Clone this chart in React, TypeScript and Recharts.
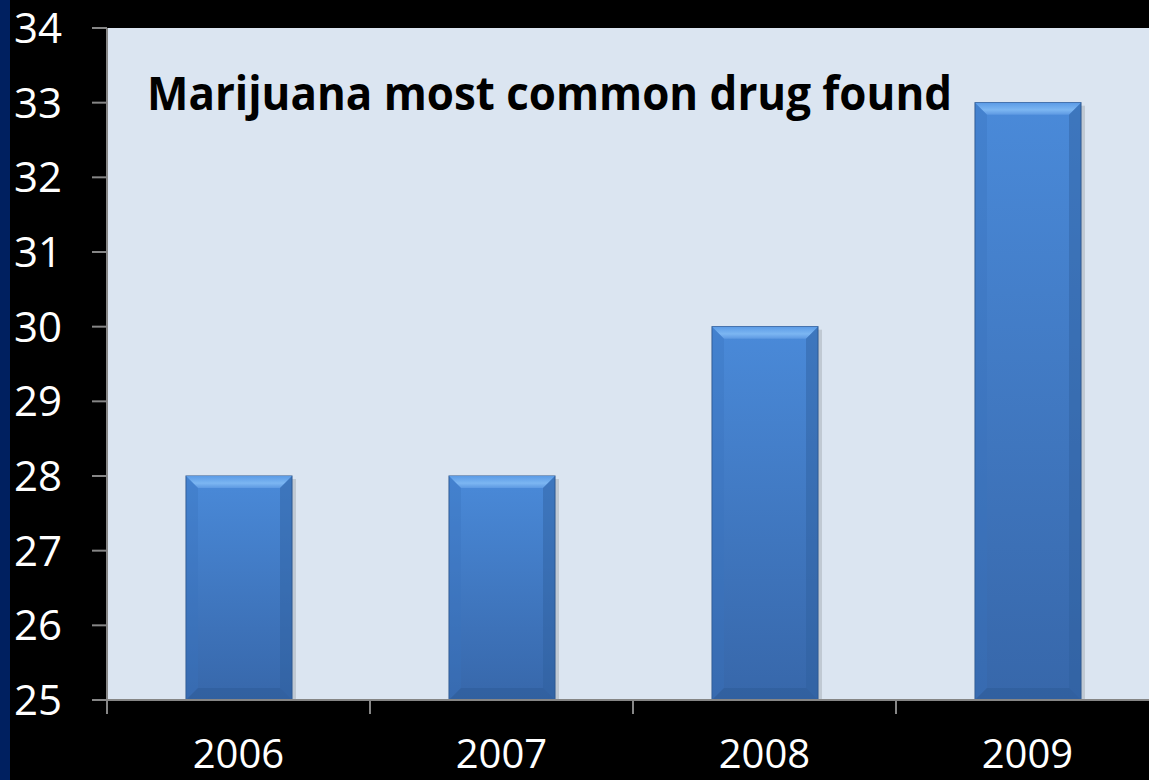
import { BarChart, Bar, XAxis, YAxis, CartesianGrid } from "recharts";

const YEARS = ["2006", "2007", "2008", "2009"];
const FOUND = [28, 28, 30, 33];
const Y_TICKS = [25, 26, 27, 28, 29, 30, 31, 32, 33, 34];
const TITLE = "Marijuana most common drug found";

const chartData = YEARS.map((year, i) => ({
    year,
    value: FOUND[i],
}));

const FONT = "'Open Sans', 'Liberation Sans', sans-serif";
const AXIS_GRAY = "#868686";

function BevelBar(props: any) {
    const { x, y, width, height } = props;
    if (!height || height <= 0) return null;
    const b = 12;
    return (
        <g>
            <rect x={x + 4} y={y + 3} width={width} height={height - 3} fill="#000" opacity={0.12} />
            <rect x={x} y={y} width={width} height={height} fill="url(#barBody)" stroke="#2a548c" strokeWidth={1} />
            <polygon
                points={`${x},${y} ${x + width},${y} ${x + width - b},${y + b} ${x + b},${y + b}`}
                fill="url(#barTop)"
            />
            <polygon
                points={`${x + width},${y} ${x + width},${y + height} ${x + width - b},${y + height - b} ${x + width - b},${y + b}`}
                fill="#2f5f9e"
                opacity={0.45}
            />
            <polygon
                points={`${x},${y} ${x + b},${y + b} ${x + b},${y + height - b} ${x},${y + height}`}
                fill="#3a72bd"
                opacity={0.35}
            />
            <polygon
                points={`${x},${y + height} ${x + b},${y + height - b} ${x + width - b},${y + height - b} ${x + width},${y + height}`}
                fill="#2c5a95"
                opacity={0.5}
            />
        </g>
    );
}

function YearTick(props: any) {
    const { x, y, payload } = props;
    const off = payload && payload.offset ? payload.offset : 131.5;
    return (
        <g>
            <line x1={x - off} x2={x - off} y1={y} y2={y + 14} stroke={AXIS_GRAY} strokeWidth={2} />
            <text x={x} y={y + 68} textAnchor="middle" fill="#ffffff" fontSize={40} fontFamily={FONT}>
                {payload.value}
            </text>
        </g>
    );
}

export default function App() {
    return (
        <div
            style={{
                position: "absolute",
                left: 0,
                top: 0,
                width: 1149,
                height: 780,
                background: "#000",
                overflow: "hidden",
            }}
        >
            <div
                style={{
                    position: "absolute",
                    left: 0,
                    top: 0,
                    width: 10,
                    height: 780,
                    background: "#002060",
                }}
            />
            <BarChart
                width={1159}
                height={780}
                data={chartData}
                margin={{ top: 28, right: 0, left: 0, bottom: 0 }}
                style={{ position: "absolute", left: 0, top: 0 }}
            >
                <defs>
                    <linearGradient id="barBody" x1="0" y1="0" x2="0" y2="1">
                        <stop offset="0%" stopColor="#4a8ad9" />
                        <stop offset="100%" stopColor="#3767aa" />
                    </linearGradient>
                    <linearGradient id="barTop" x1="0" y1="0" x2="0" y2="1">
                        <stop offset="0%" stopColor="#5b9be6" />
                        <stop offset="60%" stopColor="#7cb6f2" />
                        <stop offset="100%" stopColor="#5d99e2" />
                    </linearGradient>
                </defs>
                <CartesianGrid fill="#dbe5f1" horizontal={false} vertical={false} stroke="none" />
                <XAxis
                    dataKey="year"
                    height={80}
                    interval={0}
                    tickLine={false}
                    tickSize={0}
                    tickMargin={0}
                    axisLine={{ stroke: AXIS_GRAY, strokeWidth: 2 }}
                    tick={<YearTick />}
                />
                <YAxis
                    width={107}
                    type="number"
                    domain={[25, 34]}
                    ticks={Y_TICKS}
                    interval={0}
                    tickSize={15}
                    tickMargin={30}
                    axisLine={{ stroke: AXIS_GRAY, strokeWidth: 2 }}
                    tickLine={{ stroke: AXIS_GRAY, strokeWidth: 2 }}
                    tick={{ fill: "#ffffff", fontSize: 42, fontFamily: FONT }}
                />
                <Bar dataKey="value" barSize={106} shape={<BevelBar />} isAnimationActive={false} />
            </BarChart>
            <svg
                width={1149}
                height={780}
                style={{ position: "absolute", left: 0, top: 0, pointerEvents: "none" }}
            >
                <text
                    x={147}
                    y={110}
                    fontSize={46}
                    fontWeight="bold"
                    fontFamily={FONT}
                    fill="#000"
                    textLength={805}
                    lengthAdjust="spacingAndGlyphs"
                >
                    {TITLE}
                </text>
            </svg>
        </div>
    );
}
